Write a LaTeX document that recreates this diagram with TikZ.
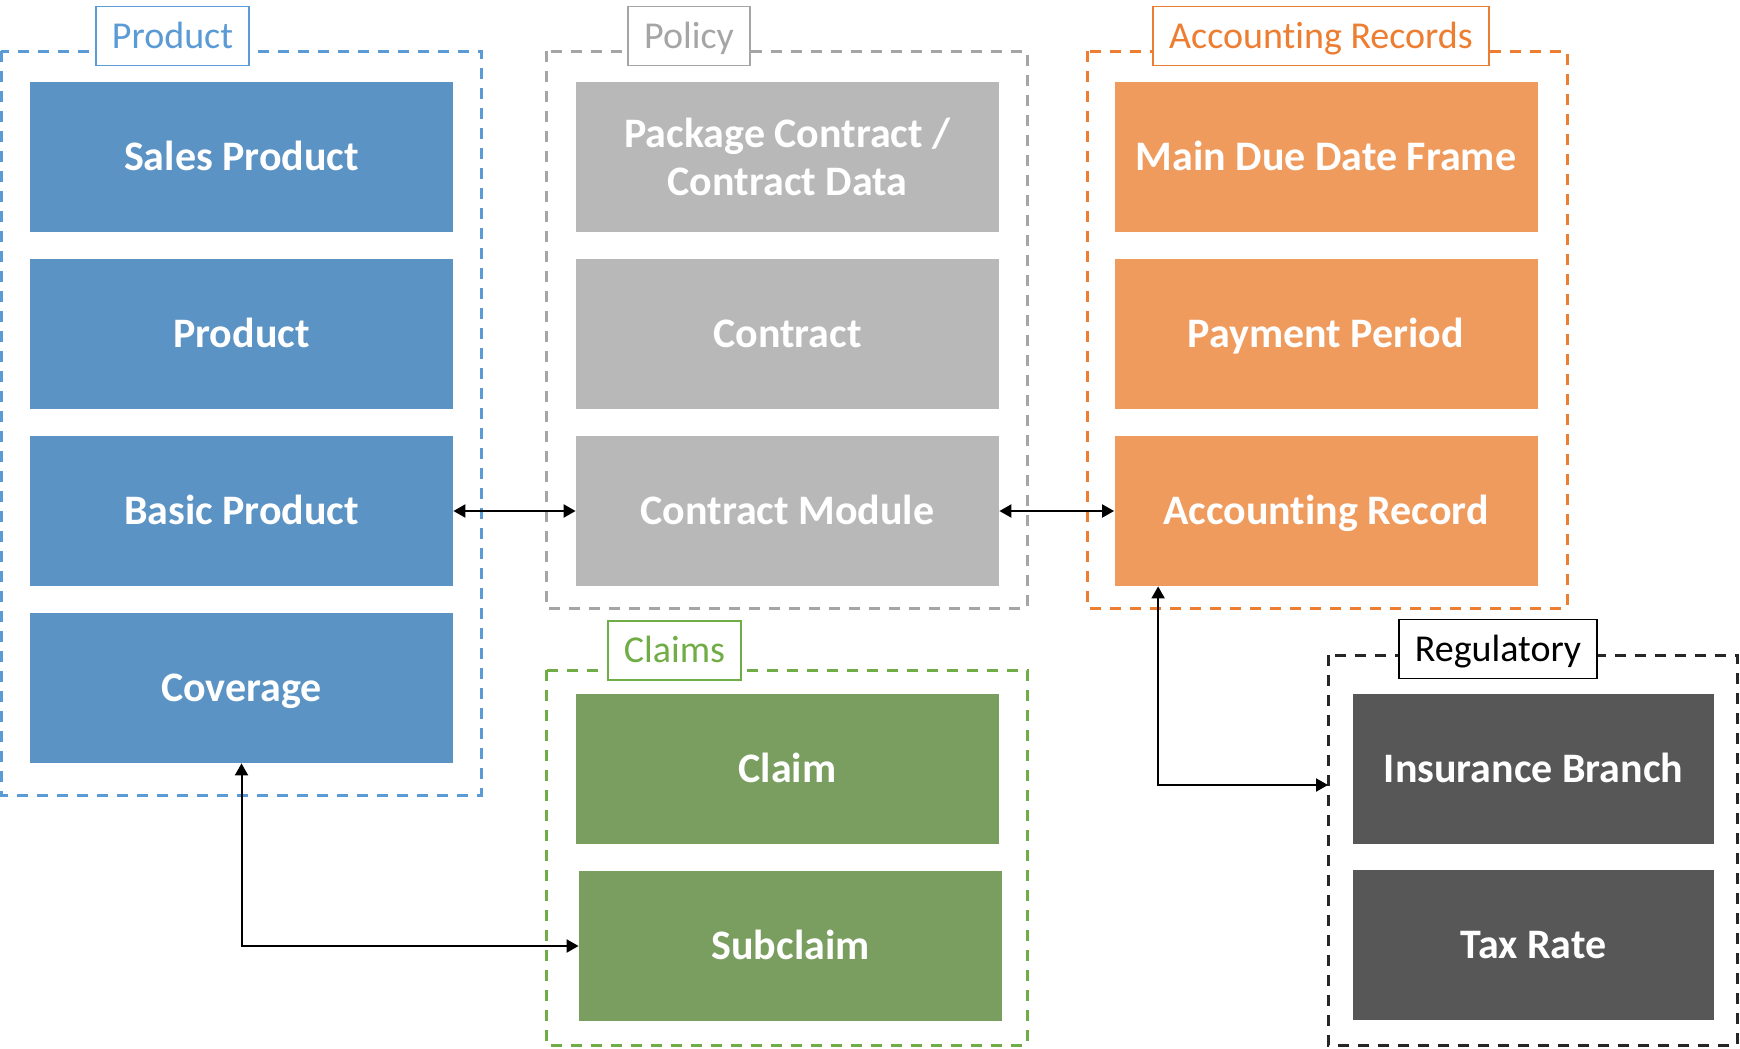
\documentclass[tikz,border=0pt]{standalone}
\usepackage{fontspec}
\setmainfont{Carlito}[Ligatures=CommonOff]
\usetikzlibrary{arrows.meta}

\definecolor{bfill}{HTML}{5A93C4}
\definecolor{bline}{HTML}{5B9BD5}
\definecolor{gfill}{HTML}{B8B8B8}
\definecolor{gline}{HTML}{A5A5A5}
\definecolor{ofill}{HTML}{F09B5E}
\definecolor{oline}{HTML}{ED7D31}
\definecolor{cfill}{HTML}{7A9E60}
\definecolor{cline}{HTML}{70AD47}
\definecolor{dfill}{HTML}{575757}
\definecolor{dline}{HTML}{262626}

\begin{document}
\begin{tikzpicture}[x=0.5pt,y=-0.5pt,
    box/.style={rectangle, fill=#1, text=white, inner sep=0pt,
      font=\fontsize{21}{24}\selectfont\bfseries, align=center,
      text height=17.9pt, text depth=4.2pt,
      minimum width=211.5pt, minimum height=75pt},
    grp/.style={draw=#1, dash pattern=on 5.5pt off 4.5pt, line width=1.5pt},
    tag/.style={draw=#1, text=#1, fill=white, line width=0.75pt,
      font=\fontsize{19}{21}\selectfont, text height=16.2pt, text depth=3.8pt,
      minimum height=29.5pt, inner xsep=8pt},
    arr/.style={{Triangle[length=6pt,width=6.5pt]}-{Triangle[length=6pt,width=6.5pt]}, line width=1pt}]
  \useasboundingbox (0,0) rectangle (1740,1049);

  % groups
  \draw[grp=bline] (1,51) rectangle (481,795);
  \draw[grp=gline] (546,51) rectangle (1027,608);
  \draw[grp=oline] (1087,51) rectangle (1567,608);
  \draw[grp=cline] (546,670) rectangle (1027,1045);
  \draw[grp=dline] (1328,655) rectangle (1737,1045);
  \coordinate (regin) at (1328,785);

  \node[tag=bline] (prodtag) at (172.5,36) {Product};
  \node[tag=gline] (poltag) at (689,36) {Policy};
  \node[tag=oline] (acctag) at (1321,36) {Accounting Records};
  \node[tag=cline] (clmtag) at (674.5,650.5) {Claims};
  \node[tag=black, text=black] (regtag) at (1498,649) {Regulatory};

  % product
  \node[box=bfill] (sales) at (241.5,156.5) {Sales Product};
  \node[box=bfill] (prod) at (241.5,334) {Product};
  \node[box=bfill] (basic) at (241.5,511) {Basic Product};
  \node[box=bfill] (cover) at (241.5,688) {Coverage};

  % policy
  \node[box=gfill, text height={}, text depth={}] (pkg) at (787.5,156.5) {Package Contract /\\Contract Data};
  \node[box=gfill] (contract) at (787.5,334) {Contract};
  \node[box=gfill] (module) at (787.5,511) {Contract Module};

  % accounting records
  \node[box=ofill] (mdd) at (1326,156.5) {Main Due Date Frame};
  \node[box=ofill] (payper) at (1326,334) {Payment Period};
  \node[box=ofill] (accrec) at (1326,511) {Accounting Record};

  % claims
  \node[box=cfill] (claim) at (787.5,768.5) {Claim};
  \node[box=cfill] (subclaim) at (790.5,946) {Subclaim};

  % regulatory
  \node[box=dfill, minimum width=180.5pt] (branch) at (1533.5,769) {Insurance Branch};
  \node[box=dfill, minimum width=180.5pt] (tax) at (1533.5,944.5) {Tax Rate};

  \draw[arr] (basic) -- (module);
  \draw[arr] (module) -- (accrec);
  \draw[arr] (cover.south) |- (subclaim.west);
  \draw[arr] ([xshift=22pt]accrec.south west) |- (regin);
\end{tikzpicture}
\end{document}
